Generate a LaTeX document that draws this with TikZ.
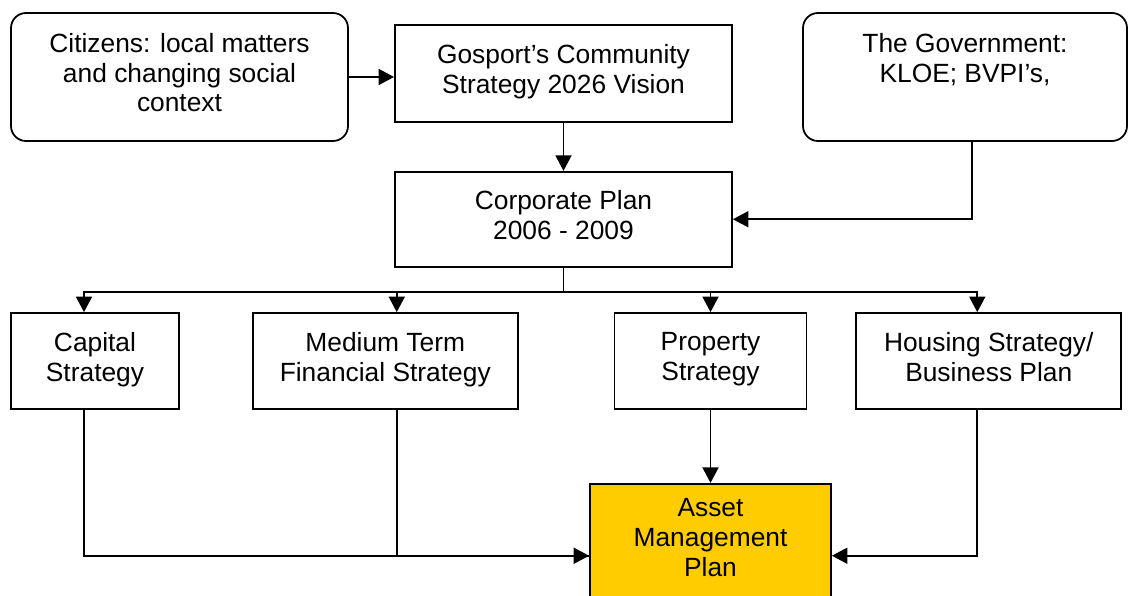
\documentclass[tikz,border=0pt]{standalone}
\usepackage{fontspec}
\setmainfont{Liberation Sans}
\usetikzlibrary{arrows.meta,calc,positioning}
\definecolor{gold}{HTML}{FFCC00}

\begin{document}
\begin{tikzpicture}[
    box/.style={rectangle, draw, line width=1pt, align=center, inner sep=2pt,
      font=\fontsize{15}{17}\selectfont,
      execute at begin node=\strut, execute at end node=\strut},
    rbox/.style={box, rounded corners=0.3cm},
    arr/.style={line width=1pt, -{Triangle[length=0.31cm,width=0.32cm]}}
  ]
    \useasboundingbox (0,0) rectangle (22.56,11.92);
    \node(cit) [rbox, minimum width=6.74cm, minimum height=2.56cm] at (3.59,10.38)
      {Citizens: local matters\\and changing social\\context};
    \node(gos) [box, minimum width=6.74cm, minimum height=1.94cm] at (11.27,10.45)
      {Gosport’s Community\\Strategy 2026 Vision};
    \node(gov) [rbox, minimum width=6.48cm, minimum height=2.56cm] at (19.30,10.38)
      {The Government:\\KLOE; BVPI’s,\\\mbox{}};
    \node(corp) [box, minimum width=6.74cm, minimum height=1.90cm, below=0.96cm of gos]
      {Corporate Plan\\2006 - 2009};
    \node(cap) [box, minimum width=3.36cm, minimum height=1.92cm] at (1.90,4.70)
      {Capital\\Strategy};
    \node(mtfs) [box, minimum width=5.30cm, minimum height=1.92cm, right=1.44cm of cap]
      {Medium Term\\Financial Strategy};
    \node(prop) [box, minimum width=3.84cm, minimum height=1.92cm, right=1.90cm of mtfs]
      {Property\\Strategy};
    \node(house) [box, minimum width=5.30cm, minimum height=1.92cm, right=0.96cm of prop]
      {Housing Strategy/\\Business Plan};
    \node(asset) [box, fill=gold, minimum width=4.82cm, minimum height=2.32cm, below=1.46cm of prop]
      {Asset\\Management\\Plan};

    \coordinate (bus) at ($(corp.south)+(0,-0.48)$);
    \coordinate (low) at ($(asset.west)+(0,-0.28)$);

    \draw[arr] (cit.east) -- (cit.east -| gos.west);
    \draw[arr] (gos) -- (corp);
    \draw[arr] ([xshift=0.14cm]gov.south) |- (corp.east);

    \draw[line width=1pt] (corp) -- (bus);
    \draw[arr] (bus) -| ([xshift=-0.22cm]cap.north);
    \draw[arr] (bus) -| ([xshift=0.23cm]mtfs.north);
    \draw[arr] (bus) -| (prop.north);
    \draw[arr] (bus) -| ([xshift=-0.23cm]house.north);

    \draw[arr] ([xshift=-0.22cm]cap.south) |- (low);
    \draw[line width=1pt] ([xshift=0.23cm]mtfs.south) |- (low);
    \draw[arr] (prop) -- (asset);
    \draw[arr] ([xshift=-0.23cm]house.south) |- (asset.east |- low);
  \end{tikzpicture}
\end{document}
